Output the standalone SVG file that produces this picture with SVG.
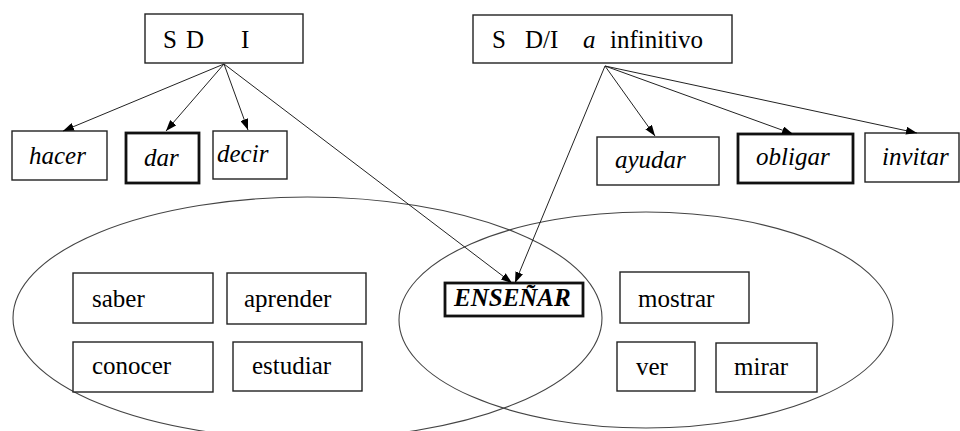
<svg xmlns="http://www.w3.org/2000/svg" width="960" height="431" viewBox="0 0 960 431" font-family="'Liberation Serif', Tinos, 'Times New Roman', Times, 'DejaVu Serif', 'Noto Serif', serif">
<style>
text{font-family:'Liberation Serif', Tinos, 'Times New Roman', Times, 'DejaVu Serif', 'Noto Serif', serif;font-size:25px;fill:#000}
.it{font-style:italic}
.bi{font-style:italic;font-weight:bold;font-size:25px}
.box{fill:#fff;stroke:#222;stroke-width:1.4}
.thick{fill:#fff;stroke:#111;stroke-width:2.8}
.set{fill:none;stroke:#444;stroke-width:1.1}
.edge{fill:none;stroke:#222;stroke-width:1;marker-end:url(#ah)}
</style>
<defs>
<marker id="ah" markerUnits="userSpaceOnUse" markerWidth="11" markerHeight="8" refX="11" refY="4" orient="auto">
<path d="M0,0 L11,4 L0,8 z" fill="#000"/>
</marker>
</defs>
<rect width="960" height="431" fill="#fff"/>
<g id="sets">
<ellipse class="set" cx="307.5" cy="318" rx="294.5" ry="121"/>
<ellipse class="set" cx="646" cy="320" rx="247" ry="108"/>
</g>
<g id="n-sdi"><rect class="box" x="145" y="14" width="158" height="49"/><text y="48"><tspan x="163">S</tspan><tspan x="186">D</tspan><tspan x="241">I</tspan></text></g>
<g id="n-sdia"><rect class="box" x="473" y="15" width="259" height="48"/><text y="48"><tspan x="492">S</tspan><tspan x="525">D/I</tspan><tspan x="583" class="it">a</tspan><tspan x="610">infinitivo</tspan></text></g>
<g id="n-hacer"><rect class="box" x="12" y="131" width="95" height="49"/><text class="it" x="29" y="164">hacer</text></g>
<g id="n-dar"><rect class="thick" x="126" y="133" width="73" height="50"/><text class="it" x="144" y="166">dar</text></g>
<g id="n-decir"><rect class="box" x="213" y="131" width="74" height="48"/><text class="it" x="217" y="162">decir</text></g>
<g id="n-ayudar"><rect class="box" x="597" y="137" width="122" height="48"/><text class="it" x="615" y="168">ayudar</text></g>
<g id="n-obligar"><rect class="thick" x="738" y="134" width="115" height="49"/><text class="it" x="756" y="165">obligar</text></g>
<g id="n-invitar"><rect class="box" x="865" y="133" width="94" height="49"/><text class="it" x="882" y="165">invitar</text></g>
<g id="n-saber"><rect class="box" x="73" y="273" width="140" height="50"/><text x="92" y="307">saber</text></g>
<g id="n-aprender"><rect class="box" x="227" y="273" width="139" height="51"/><text x="244" y="307">aprender</text></g>
<g id="n-conocer"><rect class="box" x="73" y="342" width="140" height="50"/><text x="92" y="374">conocer</text></g>
<g id="n-estudiar"><rect class="box" x="233" y="342" width="129" height="49"/><text x="252" y="374">estudiar</text></g>
<g id="n-ensenar"><rect class="thick" x="445" y="283" width="138" height="33"/><text class="bi" x="454" y="306">ENSEÑAR</text></g>
<g id="n-mostrar"><rect class="box" x="620" y="272" width="129" height="51"/><text x="638" y="307">mostrar</text></g>
<g id="n-ver"><rect class="box" x="617" y="342" width="78" height="49"/><text x="636" y="375">ver</text></g>
<g id="n-mirar"><rect class="box" x="716" y="343" width="101" height="49"/><text x="734" y="375">mirar</text></g>
<g id="connectors">
<line class="edge" x1="224" y1="64" x2="63" y2="131"/>
<line class="edge" x1="224" y1="64" x2="166" y2="131"/>
<line class="edge" x1="224" y1="64" x2="248" y2="130"/>
<line class="edge" x1="224" y1="64" x2="512" y2="283"/>
<line class="edge" x1="605" y1="66" x2="655" y2="136"/>
<line class="edge" x1="605" y1="66" x2="793" y2="134"/>
<line class="edge" x1="605" y1="66" x2="917" y2="133"/>
<line class="edge" x1="605" y1="66" x2="515" y2="283"/>
</g>
</svg>
